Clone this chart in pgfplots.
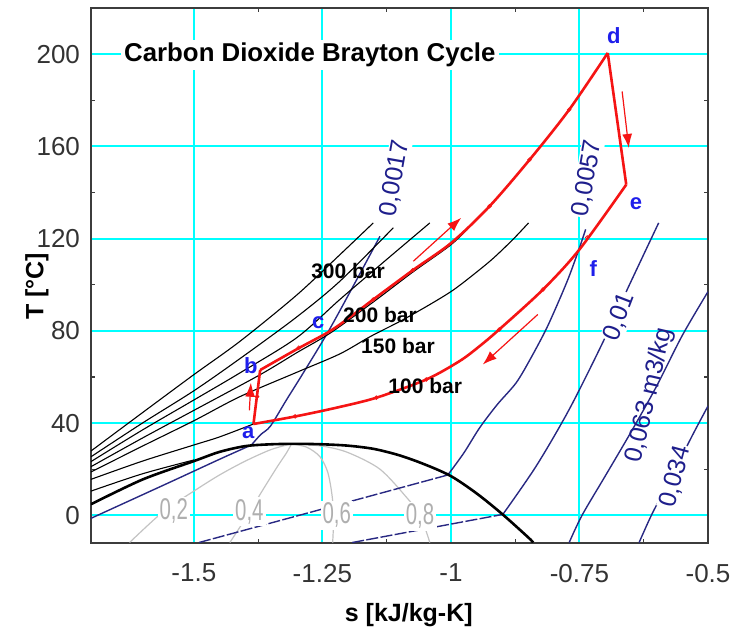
\documentclass[border=0pt]{standalone}
\usepackage{fontspec}
\setmainfont{Liberation Sans}
\usepackage{pgfplots}
\pgfplotsset{compat=1.18}
\usetikzlibrary{arrows.meta}
\definecolor{gridcyan}{RGB}{0,255,255}
\definecolor{isonavy}{RGB}{40,40,130}
\definecolor{lblnavy}{RGB}{30,30,140}
\definecolor{qgray}{RGB}{195,195,195}
\definecolor{qlbl}{RGB}{175,175,175}
\definecolor{cyc}{RGB}{245,20,20}
\definecolor{ptblue}{RGB}{30,30,235}
\definecolor{framec}{RGB}{60,60,60}

\begin{document}
\begin{tikzpicture}
\begin{axis}[
  name=ax, scale only axis, width=308.5pt, height=267.5pt,
  xmin=-1.7, xmax=-0.5, ymin=-12, ymax=220,
  xtick={-1.5,-1.25,-1,-0.75,-0.5}, xticklabels={-1.5,-1.25,-1,-0.75,-0.5},
  minor x tick num=1,
  ytick={0,40,80,120,160,200}, yticklabels={0,40,80,120,160,200},
  minor y tick num=1,
  xmajorgrids, ymajorgrids, major grid style={gridcyan, line width=1pt},
  tick align=inside, major tick length=0pt, minor tick length=2.2pt,
  minor tick style={framec, line width=0.6pt},
  axis line style={framec, line width=1pt},
  tick label style={font=\fontsize{13}{15}\selectfont, text=black!80},
  xticklabel style={yshift=-7pt},
  yticklabel style={xshift=-2pt},
  xlabel={s [kJ/kg-K]}, ylabel={T [°C]},
  label style={font=\fontsize{12.5}{15}\selectfont\bfseries},
  xlabel style={at={(axis description cs:0.515,-0.135)}, anchor=center},
  ylabel style={at={(axis description cs:-0.0875,0.48)}, anchor=center},
]
% quality lines
\addplot[qgray, line width=0.6pt, smooth] coordinates {(-1.31,31)(-1.35,28.5)(-1.40,23.5)(-1.45,17.5)(-1.50,10.5)(-1.56,1.5)(-1.625,-11.8)};
\addplot[qgray, line width=0.6pt, smooth] coordinates {(-1.31,31)(-1.32,27)(-1.335,22)(-1.352,16)(-1.37,9.5)(-1.39,2)(-1.41,-5)(-1.43,-11.8)};
\addplot[qgray, line width=0.6pt, smooth] coordinates {(-1.31,31)(-1.28,29.5)(-1.255,25.5)(-1.24,19)(-1.232,10)(-1.228,0)(-1.23,-11.8)};
\addplot[qgray, line width=0.6pt, smooth] coordinates {(-1.31,31)(-1.25,30)(-1.2,27.2)(-1.138,20)(-1.086,7.7)(-1.06,0)(-1.041,-11.8)};
% isochores, two-phase part
\addplot[isonavy, line width=0.7pt, dash pattern=on 6pt off 1.2pt] coordinates {(-1.49,-11.8)(-1.006,17.5)};
\addplot[isonavy, line width=0.7pt, dash pattern=on 6pt off 1.2pt] coordinates {(-1.192,-11.8)(-0.899,0.4)};
% isochores
\addplot[isonavy, line width=0.7pt, smooth] coordinates {(-1.7,-1.3)(-1.55,14)(-1.45,24.3)(-1.388,30.5)};
\addplot[isonavy, line width=0.7pt, smooth] coordinates {(-1.388,30.5)(-1.37,35)(-1.351,38.7)(-1.32,50)(-1.287,61.8)(-1.238,79.9)(-1.183,102.3)(-1.138,121)};
\addplot[isonavy, line width=0.7pt, smooth] coordinates {(-1.006,17.5)(-0.975,27)(-0.944,38)(-0.91,48)(-0.873,57.5)(-0.845,68)(-0.815,80.6)(-0.79,93)(-0.77,103.7)(-0.75,116)(-0.738,124)};
\addplot[isonavy, line width=0.7pt, smooth] coordinates {(-0.899,0.4)(-0.834,21.4)(-0.77,45.9)(-0.705,74.8)(-0.654,99.4)(-0.596,126.8)};
\addplot[isonavy, line width=0.7pt, smooth] coordinates {(-0.77,-11.8)(-0.745,0)(-0.70,17)(-0.65,36)(-0.60,56)(-0.55,78)(-0.5,97)};
\addplot[isonavy, line width=0.7pt, smooth] coordinates {(-0.634,-11.8)(-0.608,1)(-0.57,17)(-0.531,34.4)(-0.5,47.4)};
% saturation dome
\addplot[black, line width=1.3pt, smooth] coordinates {(-1.7,4.8)(-1.6,15.5)(-1.5,23.5)(-1.45,27.5)(-1.4,30)(-1.35,30.8)(-1.3,31)(-1.25,30.8)(-1.2,30.2)(-1.15,28.8)(-1.1,26)(-1.05,22)(-1.0,17)(-0.95,9.5)(-0.9,0.5)(-0.85,-9.5)(-0.84,-11.8)};
% isobars
\addplot[black, line width=0.55pt, smooth] coordinates {(-1.7,27.9)(-1.6,44.5)(-1.5,61)(-1.41,75.5)(-1.3,95.5)(-1.216,113)(-1.151,126.8)};
\addplot[black, line width=0.55pt, smooth] coordinates {(-1.7,25.4)(-1.6,40)(-1.5,54)(-1.41,68)(-1.3,86)(-1.216,101.5)(-1.112,124.7)};
\addplot[black, line width=0.55pt, smooth] coordinates {(-1.7,23.3)(-1.6,37)(-1.5,50)(-1.41,61.8)(-1.3,77)(-1.216,93.6)(-1.13,110)(-1.041,126.8)};
\addplot[black, line width=0.55pt, smooth] coordinates {(-1.7,21.1)(-1.6,33.5)(-1.5,45.5)(-1.371,61)(-1.30,70.5)(-1.235,79)(-1.151,92.5)(-1.074,105.5)(-0.999,117.5)(-0.958,126.5)};
\addplot[black, line width=0.55pt, smooth] coordinates {(-1.7,18.8)(-1.6,30)(-1.5,41)(-1.41,51.5)(-1.3,62)(-1.216,70)(-1.157,77.5)(-1.1,84)(-1.048,90.5)(-1.0,97)(-0.964,103)(-0.92,111)(-0.88,119.5)(-0.849,126.8)};
\addplot[black, line width=0.55pt, smooth] coordinates {(-1.7,15.6)(-1.6,23.5)(-1.5,30.5)(-1.45,34)(-1.384,39.6)};
\addplot[black, line width=0.55pt, smooth] coordinates {(-1.7,10.5)(-1.6,18)(-1.5,24)};
% cycle
\addplot[cyc, line width=1.3pt] coordinates {(-1.384,39.6)(-1.371,63)};
\addplot[cyc, line width=1.3pt, smooth] coordinates {(-1.371,63)(-1.30,72)(-1.235,79.9)(-1.19,87)(-1.151,93.6)(-1.074,106.3)(-0.999,118.2)(-0.925,134)(-0.847,154.2)(-0.77,175.9)(-0.695,200.5)};
\addplot[cyc, line width=1.3pt] coordinates {(-0.695,200.5)(-0.659,143.4)};
\addplot[cyc, line width=1.3pt, smooth] coordinates {(-0.659,143.4)(-0.75,115.3)(-0.821,97.9)(-0.906,80.6)(-0.944,73.4)(-0.983,66.9)(-1.048,58.9)(-1.145,51)(-1.222,46.7)(-1.3,43)(-1.384,39.6)};
\addplot[cyc, only marks, mark=o, mark size=0.9pt, mark options={line width=0.4pt}] coordinates {(-1.377,51.5)(-1.296,72.7)(-1.151,93.6)(-1.074,106.3)(-0.925,134)(-0.847,154.2)(-0.77,175.9)(-0.735,120.5)(-0.821,97.9)(-0.906,80.6)(-1.048,58.9)(-1.145,51)(-1.303,42.9)};
% direction arrows
\addplot[cyc, line width=0.6pt, -{Latex[length=7pt,width=5pt]}] coordinates {(-1.392,45.5)(-1.389,57.5)};
\addplot[cyc, line width=0.6pt, -{Latex[length=7pt,width=5pt]}] coordinates {(-1.073,110.2)(-0.98,129)};
\addplot[cyc, line width=0.6pt, -{Latex[length=7pt,width=5pt]}] coordinates {(-0.667,183.8)(-0.654,159.3)};
\addplot[cyc, line width=0.6pt, -{Latex[length=7pt,width=5pt]}] coordinates {(-0.831,87.1)(-0.938,65.4)};
% labels
\node[fill=white, inner sep=1.5pt, anchor=west, font=\fontsize{12.9}{15}\selectfont\bfseries] at (axis cs:-1.642,199.7) {Carbon Dioxide Brayton Cycle};
\begin{scope}[every node/.style={text=lblnavy, fill=white, inner sep=0.6pt, font=\fontsize{12.5}{14}\selectfont}]
\node[rotate=80] at (axis cs:-1.109,146.2) {0,0017};
\node[rotate=80] at (axis cs:-0.735,146.2) {0,0057};
\node[rotate=69] at (axis cs:-0.672,86) {0,01};
\node[rotate=75] at (axis cs:-0.563,16.7) {0,034};
\end{scope}
\node[text=lblnavy, rotate=77, inner sep=0pt, font=\fontsize{12.5}{14}\selectfont] at (axis cs:-0.613,52) {0,063 m3/kg};
\begin{scope}[every node/.style={text=qlbl, fill=white, inner sep=1pt, font=\fontsize{15}{17}\selectfont}]
\node at (axis cs:-1.539,1.7) {\scalebox{0.68}[1]{0,2}};
\node at (axis cs:-1.392,1.5) {\scalebox{0.68}[1]{0,4}};
\node at (axis cs:-1.222,0) {\scalebox{0.68}[1]{0,6}};
\node at (axis cs:-1.06,-0.4) {\scalebox{0.68}[1]{0,8}};
\end{scope}
\begin{scope}[every node/.style={inner sep=0.5pt, font=\fontsize{10.5}{12}\selectfont\bfseries}]
\node at (axis cs:-1.2,105.9) {300 bar};
\node at (axis cs:-1.138,86.9) {200 bar};
\node at (axis cs:-1.103,73.4) {150 bar};
\node at (axis cs:-1.05,55.9) {100 bar};
\end{scope}
\begin{scope}[every node/.style={text=ptblue, inner sep=0pt, font=\fontsize{11}{12}\selectfont\bfseries}]
\node at (axis cs:-1.394,35.7) {a};
\node at (axis cs:-1.389,64.8) {b};
\node at (axis cs:-1.258,83.4) {c};
\node at (axis cs:-0.683,208.2) {d};
\node at (axis cs:-0.64,135) {e};
\node at (axis cs:-0.723,107.2) {f};
\end{scope}
\end{axis}
\path (ax.south west) ++(-45.5pt,-45pt) coordinate (bbl);
\path (ax.north east) ++(15.5pt,4pt) coordinate (btr);
\path[use as bounding box] (bbl) rectangle (btr);
\end{tikzpicture}
\end{document}
